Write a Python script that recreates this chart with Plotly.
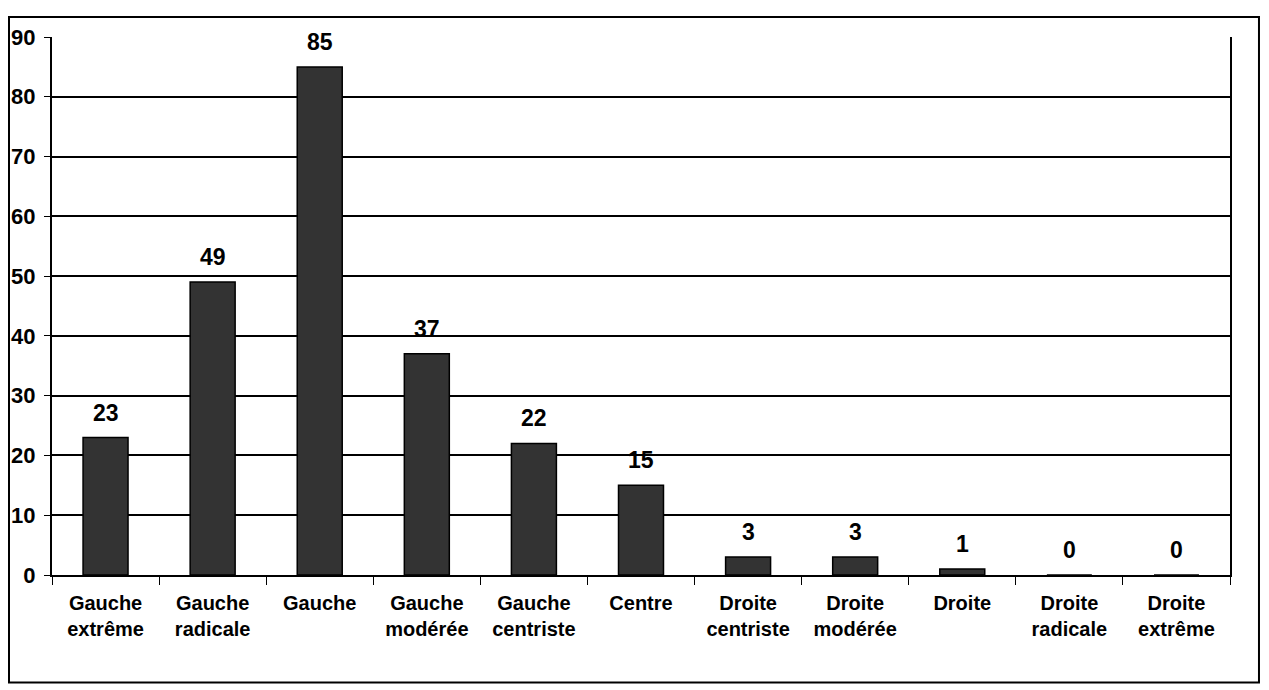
import plotly.graph_objects as go

# Data
categories = ["Gauche<br>extrême", "Gauche<br>radicale", "Gauche", "Gauche<br>modérée",
              "Gauche<br>centriste", "Centre", "Droite<br>centriste", "Droite<br>modérée",
              "Droite", "Droite<br>radicale", "Droite<br>extrême"]
values = [23, 49, 85, 37, 22, 15, 3, 3, 1, 0, 0]
y_ticks = [0, 10, 20, 30, 40, 50, 60, 70, 80, 90]

FONT = "Liberation Sans, Arial, sans-serif"

fig = go.Figure(go.Bar(
    x=categories,
    y=values,
    width=0.42,
    marker=dict(color="#333333", line=dict(color="black", width=1.5)),
))

# value labels above the bars
for c, v in zip(categories, values):
    fig.add_annotation(x=c, y=v, text=f"<b>{v}</b>", showarrow=False,
                       yanchor="bottom", yshift=10,
                       font=dict(family=FONT, size=23, color="black"))

# page adds ~8px offset, so margins are shifted accordingly
fig.update_layout(
    width=1269,
    height=690,
    margin=dict(l=44, r=47, t=29, b=123),
    paper_bgcolor="white",
    plot_bgcolor="white",
    showlegend=False,
    font=dict(family=FONT, color="black"),
)

fig.update_yaxes(
    range=[0, 90],
    tickvals=y_ticks,
    ticktext=[f"<b>{t}</b>" for t in y_ticks],
    tickfont=dict(family=FONT, size=22, color="black"),
    showgrid=True,
    gridcolor="black",
    gridwidth=1.5,
    showline=True,
    linecolor="black",
    linewidth=2,
    mirror=True,
    ticks="outside",
    ticklen=6,
    tickcolor="black",
    ticklabelstandoff=4,
    zeroline=False,
    automargin=False,
)

fig.update_xaxes(
    tickvals=categories,
    ticktext=[f"<b>{c}</b>" for c in categories],
    tickfont=dict(family=FONT, size=20, color="black"),
    showline=True,
    linecolor="black",
    linewidth=2,
    ticks="outside",
    tickson="boundaries",
    ticklen=8,
    tickcolor="black",
    ticklabelstandoff=9,
    showgrid=False,
    automargin=False,
)

# outer frame around the whole chart
fig.add_shape(type="rect", xref="paper", yref="paper",
              x0=-0.0365, x1=1.0246, y0=-0.2, y1=1.037,
              line=dict(color="black", width=2))

fig.write_html("out.html")
